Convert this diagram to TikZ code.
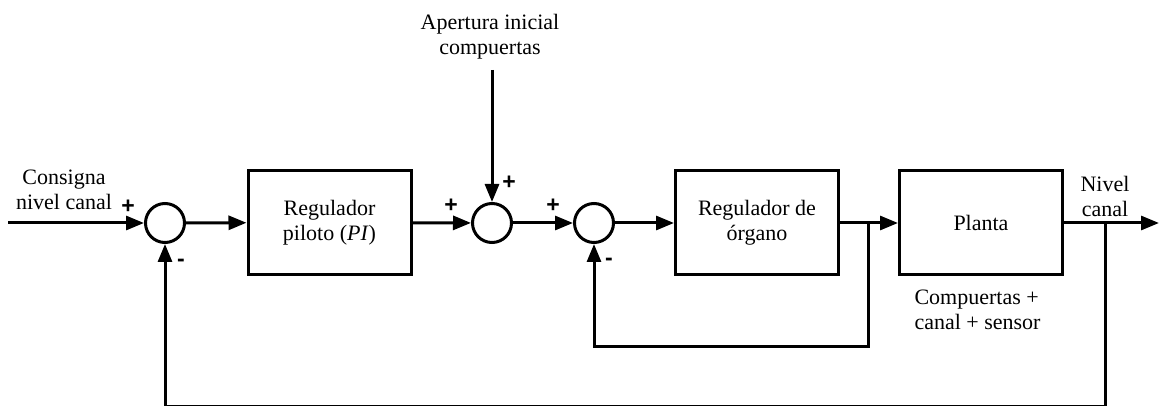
\documentclass[tikz,border=0pt]{standalone}
\usepackage{fontspec}
\setmainfont{Liberation Serif}
\newfontfamily\signfont{Liberation Sans}
\usetikzlibrary{arrows.meta}
\begin{document}
\begin{tikzpicture}[x=1pt,y=-1pt, line width=3pt,
 blk/.style={draw, minimum width=163pt, minimum height=104pt, align=center, inner sep=0pt, font=\fontsize{22}{25}\selectfont},
 sumc/.style={draw, circle, minimum size=39pt, inner sep=0pt},
 arr/.style={-{Triangle[length=18pt,width=14pt]}},
 lbl/.style={align=center, inner sep=0pt, font=\fontsize{22}{25}\selectfont},
 sgn/.style={inner sep=0pt, font=\signfont\bfseries\fontsize{23}{23}\selectfont}]
\useasboundingbox (0,0) rectangle (1160,406);
% nodes
\coordinate (in) at (8,223);
\node[sumc] (s1) at (165,223) {};
\node[blk] (b1) at (329.5,222.5) {Regulador\\piloto (\textit{PI})};
\node[sumc] (s2) at (492,223) {};
\node[sumc] (s3) at (594,223) {};
\node[blk] (b2) at (757,223) {Regulador de\\órgano};
\node[blk] (b3) at (981,223) {Planta};
\coordinate (out) at (1159,223);
\coordinate (top) at (492,70);
\coordinate (br1) at (868,223);
\coordinate (c1) at (868,346);
\coordinate (br2) at (1105,223);
\coordinate (c2) at (1105,406.5);
% labels
\node[lbl] (t1) at (490,37) {Apertura inicial\\compuertas};
\node[lbl] (t2) at (64,190) {Consigna\\nivel canal};
\node[lbl] (t3) at (1105,196) {Nivel\\canal};
\node[lbl, anchor=west, align=left] (t4) at (913,310) {Compuertas +\\canal + sensor};
% signs
\node[sgn] (p1) at (128,207) {+};
\node[sgn] (m1) at (181,263) {-};
\node[sgn] (p2) at (451,206) {+};
\node[sgn] (p3) at (509,183) {+};
\node[sgn] (p4) at (553,206) {+};
\node[sgn] (m2) at (609,262) {-};
% connectors
\draw[arr] (in) -- (s1);
\draw[arr] (s1) -- (b1);
\draw[arr] (b1) -- (s2);
\draw[arr] (top) -- (s2);
\draw[arr] (s2) -- (s3);
\draw[arr] (s3) -- (b2);
\draw[arr] (b2) -- (b3);
\draw[arr] (b3) -- (out);
\draw[arr] (br1) -- (c1) -| (s3);
\draw[arr] (br2) -- (c2) -| (s1);
\end{tikzpicture}
\end{document}
